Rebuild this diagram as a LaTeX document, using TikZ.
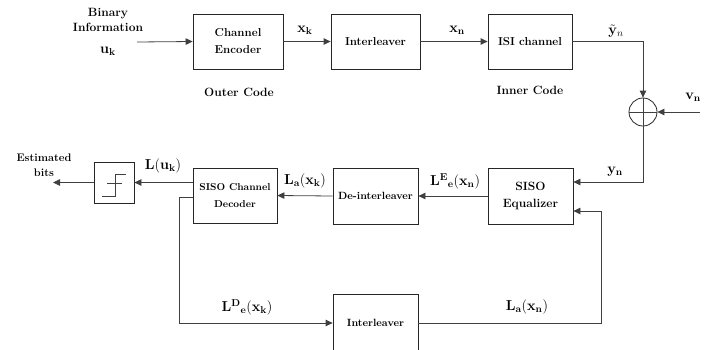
\documentclass[tikz,border=0pt]{standalone}
\usetikzlibrary{arrows.meta,calc}
\begin{document}
\begin{tikzpicture}[x=1pt,y=-1pt,
  blk/.style={draw=black!85,line width=0.8pt,rectangle,inner sep=0pt,align=center,font=\bfseries\fontsize{11.5}{17}\selectfont},
  conn/.style={draw=black!75,line width=0.8pt,-{Triangle[length=7pt,width=6.5pt]}},
  wire/.style={draw=black!75,line width=0.8pt},
  lbl/.style={inner sep=0pt,align=center,font=\bfseries\fontsize{12}{15}\selectfont},
  mlbl/.style={inner sep=0pt,font=\fontsize{14.5}{17}\selectfont}]
\useasboundingbox (0,0) rectangle (726,349);
% top row
\node[blk,minimum width=90pt,minimum height=55pt] (enc) at (238,41.5) {Channel\\Encoder};
\node[blk,minimum width=89pt,minimum height=55pt] (int1) at (375.5,41.5) {Interleaver};
\node[blk,minimum width=84pt,minimum height=55pt] (isi) at (530,41.5) {ISI channel};
\node[draw=black!85,line width=0.8pt,circle,minimum size=28pt,inner sep=0pt] (sum) at (643,112) {};
\draw[wire] (sum.north) -- (sum.south) (sum.west) -- (sum.east);
% middle row
\node[blk,minimum width=85pt,minimum height=56pt,font=\bfseries\fontsize{12}{17}\selectfont] (eq) at (530.5,196) {SISO\\Equalizer};
\node[blk,minimum width=85pt,minimum height=56pt,font=\bfseries\fontsize{10.5}{14}\selectfont] (deint) at (375.5,196) {De-interleaver};
\node[blk,minimum width=84pt,minimum height=55pt,font=\bfseries\fontsize{10}{17}\selectfont] (dec) at (235,195.5) {SISO Channel\\Decoder};
\node[blk,minimum width=40pt,minimum height=41pt] (hard) at (114,182.5) {};
\draw[wire] (102,196) -- (115,196) -- (115,174) -- (126,174);
\draw[wire] (107,183) -- (122,183);
% bottom
\node[blk,minimum width=85pt,minimum height=58pt,font=\bfseries\fontsize{10.5}{14}\selectfont] (int2) at (375.5,323) {Interleaver};
% coordinates
\coordinate (uin) at (137,42);
\coordinate (vin) at (700,112);
\coordinate (bout) at (53,182.5);
\coordinate (fb) at (601,323);
% connectors
\draw[conn] (uin) -- (enc.west);
\draw[conn] (enc.east) -- (int1.west);
\draw[conn] (int1.east) -- (isi.west);
\draw[conn] (isi.east) -| (sum.north);
\draw[conn] (vin) -- (sum.east);
\draw[conn] (sum.south) |- ([yshift=14pt]eq.east);
\draw[conn] (eq.west) -- (deint.east);
\draw[conn] (deint.west) -- (dec.west -| dec.east);
\draw[conn] (hard.east -| dec.west) -- (hard.east);
\draw[conn] (hard.west) -- (bout);
\draw[conn] ([yshift=-1.5pt]dec.west) -- ++(-13,0) |- (int2.west);
\draw[conn] (int2.east) -- (fb) |- ([yshift=-15pt]eq.east);
% labels
\node[lbl] (tbin) at (108,20) {Binary\\Information};
\node[mlbl] (tuk) at (108,51) {$\mathbf{u_k}$};
\node[mlbl] (txk) at (305,30) {$\mathbf{x_k}$};
\node[mlbl] (txn) at (457,30) {$\mathbf{x_n}$};
\node[mlbl] (tyt) at (616,31) {$\tilde{\mathbf{y}}_{n}$};
\node[lbl] (touter) at (239,92) {Outer Code};
\node[lbl] (tinner) at (530,90) {Inner Code};
\node[mlbl] (tvn) at (693,97) {$\mathbf{v_n}$};
\node[mlbl] (tyn) at (615,172) {$\mathbf{y_n}$};
\node[mlbl] (tle) at (455,181) {$\mathbf{L^{E}{}_{e}(x_n)}$};
\node[mlbl] (tlak) at (305,181) {$\mathbf{L_a(x_k)}$};
\node[mlbl] (tlu) at (163,166) {$\mathbf{L(u_k)}$};
\node[lbl,font=\bfseries\fontsize{11}{15}\selectfont] (test) at (44,165) {Estimated\\bits};
\node[mlbl] (tld) at (247,307) {$\mathbf{L^{D}{}_{e}(x_k)}$};
\node[mlbl] (tlan) at (527,307) {$\mathbf{L_a(x_n)}$};
\end{tikzpicture}
\end{document}
